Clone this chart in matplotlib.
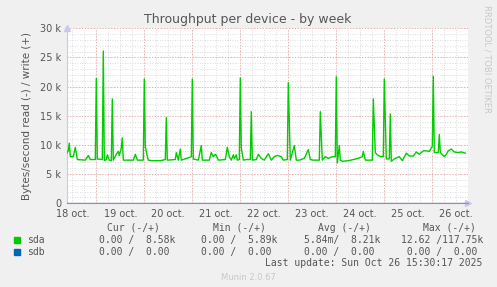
import matplotlib.pyplot as plt
from matplotlib.patches import Rectangle
import numpy as np

# Throughput per device, by week (munin). Hours since 18 oct 00:00.
hours = [9.0, 10.0, 10.5, 11.0, 12.5, 13.5, 14.5, 18.5, 20.0, 21.0, 23.5, 24.0, 24.5,
         27.0, 27.5, 28.0, 29.0, 29.5, 30.5, 31.5, 32.0, 32.5, 34.0, 35.0, 35.5, 36.5,
         37.0, 37.5, 39.5, 42.5, 43.5, 44.5, 47.5, 48.0, 48.5, 49.5, 50.0, 52.0, 56.0,
         58.5, 59.0, 59.5, 63.5, 64.0, 65.0, 66.0, 66.5, 71.0, 71.5, 72.0, 72.5, 75.0,
         76.5, 77.0, 80.5, 81.5, 82.5, 83.5, 84.0, 85.0, 88.5, 89.5, 90.5, 91.5, 92.5,
         93.0, 94.0, 94.5, 95.5, 96.0, 96.5, 97.5, 99.0, 101.0, 101.5, 102.0, 104.0,
         105.0, 106.5, 108.0, 110.0, 111.5, 113.0, 114.5, 116.5, 117.5, 119.5, 120.0,
         121.0, 123.0, 124.0, 125.5, 128.0, 130.0, 131.0, 132.5, 135.5, 136.0, 137.0,
         138.5, 140.0, 142.0, 143.5, 144.0, 144.5, 145.5, 146.0, 147.0, 150.0, 152.5,
         155.0, 157.0, 157.5, 158.5, 162.0, 162.5, 163.5, 164.5, 166.0, 167.5, 168.0,
         169.0, 170.5, 171.0, 171.5, 173.0, 175.5, 177.0, 179.0, 180.5, 182.5, 184.0,
         185.5, 187.5, 189.0, 190.5, 192.0, 192.5, 193.0, 195.0, 195.5, 196.0, 198.0,
         199.0, 200.0, 201.5, 203.0, 205.0, 206.5, 208.5]
sda_write_k = [8.5, 9.0, 10.3, 8.0, 8.0, 9.6, 7.5, 7.4, 8.2, 7.5, 7.5, 21.4, 7.6,
               7.5, 26.1, 7.3, 7.5, 8.3, 7.4, 7.3, 17.9, 7.4, 8.4, 8.9, 8.2, 9.5,
               11.2, 7.4, 7.4, 7.4, 8.4, 7.4, 7.4, 21.3, 9.8, 8.0, 7.4, 7.3, 7.3,
               7.5, 14.7, 7.4, 7.5, 8.7, 7.4, 9.3, 7.4, 7.9, 8.0, 21.3, 7.6, 7.4,
               9.9, 7.4, 7.4, 8.7, 8.0, 8.4, 8.2, 7.4, 7.5, 9.6, 8.0, 7.4, 8.3,
               7.7, 8.3, 7.4, 7.5, 21.5, 9.5, 7.4, 7.5, 7.5, 15.7, 7.4, 7.5,
               8.4, 7.7, 7.4, 8.5, 7.4, 8.0, 8.2, 8.0, 7.4, 7.5, 20.7,
               7.4, 9.9, 7.4, 7.4, 7.7, 9.2, 7.5, 7.4, 7.4, 15.7, 7.4,
               8.0, 7.7, 8.0, 8.0, 21.7, 6.9, 9.9, 7.4, 7.2, 7.3, 7.5,
               7.7, 8.0, 8.9, 7.4, 7.4, 17.9, 8.7, 8.3, 8.0, 8.0, 21.3,
               7.6, 7.6, 15.3, 7.2, 7.6, 8.0, 7.3, 8.6, 8.1, 8.1, 8.8,
               8.4, 9.0, 9.0, 8.9, 9.8, 21.8, 8.7, 8.7, 11.8, 8.7, 8.0,
               8.4, 9.0, 9.3, 8.8, 8.7, 8.8, 8.6]
day_labels = ['18 oct.', '19 oct.', '20 oct.', '21 oct.', '22 oct.',
              '23 oct.', '24 oct.', '25 oct.', '26 oct.']
y_labels = ['0', '5 k', '10 k', '15 k', '20 k', '25 k', '30 k']

devices = ['sda', 'sdb']
dev_colors = ['#00CC00', '#0066B3']
cur = ['0.00 /  8.58k', '0.00 /  0.00']
mins = ['0.00 /  5.89k', '0.00 /  0.00']
avgs = ['5.84m/  8.21k', '0.00 /  0.00']
maxs = ['12.62 /117.75k', ' 0.00 /  0.00']

W, H = 497, 287
fig = plt.figure(figsize=(W / 100, H / 100), dpi=100, facecolor='#F0F0F0')
ax = fig.add_axes([66.7 / W, 1 - 203.3 / H, (468.3 - 66.7) / W, (203.3 - 28.3) / H])
ax.set_facecolor('white')

x0, x1 = 9.2, 210.0
ax.set_xlim(x0, x1)
ax.set_ylim(0, 30000)

# grid
dot = (0, (1, 2))
for h in np.arange(12, x1, 6):
    ax.axvline(h, color='#d0d0d0', lw=0.6, ls=dot, zorder=1)
for h in np.arange(24, x1, 24):
    ax.axvline(h, color='#f0a0a0', lw=0.7, ls=dot, zorder=1)
for v in np.arange(1000, 30001, 1000):
    ax.axhline(v, color='#d0d0d0', lw=0.6, ls=dot, zorder=1)
for v in np.arange(5000, 30001, 5000):
    ax.axhline(v, color='#f0a0a0', lw=0.7, ls=dot, zorder=1)

# data
ax.plot(hours, np.array(sda_write_k) * 1000, color='#00CC00', lw=1.0, zorder=3)
ax.axhline(0, color='#9090A8', lw=1.0, zorder=4)

# axes styling
for s in ['top', 'right']:
    ax.spines[s].set_visible(False)
ax.spines['left'].set_color('#C8C8F0')
ax.spines['bottom'].set_color('#9090A8')
ax.plot([0], [1], marker='^', color='#C8C8F0', ms=4, transform=ax.transAxes, clip_on=False)
ax.plot([1], [0], marker='>', color='#C8C8F0', ms=4, transform=ax.transAxes, clip_on=False)

ax.set_xticks(np.arange(12, x1, 24))
ax.set_xticklabels(day_labels)
ax.set_yticks(np.arange(0, 30001, 5000))
ax.set_yticklabels(y_labels)
ax.tick_params(axis='both', length=0, labelsize=7, labelcolor='#555555', pad=4)

ax.set_ylabel('Bytes/second read (-) / write (+)', fontsize=7.5, color='#555555', labelpad=6)

fig.text(248 / W, 1 - 19 / H, 'Throughput per device - by week', ha='center', va='center',
         fontsize=9, color='#555555')
fig.text(487 / W, 1 - 5 / H, 'RRDTOOL / TOBI OETIKER', rotation=270, ha='center', va='top',
         fontsize=6, color='#C8C8C8')

# legend
mono = dict(family='DejaVu Sans Mono', fontsize=7, color='#555555', va='center')
fig.text(106.7 / W, 1 - 227.7 / H, 'Cur (-/+)', ha='left', **mono)
fig.text(212.7 / W, 1 - 227.7 / H, 'Min (-/+)', ha='left', **mono)
fig.text(318.3 / W, 1 - 227.7 / H, 'Avg (-/+)', ha='left', **mono)
fig.text(422.7 / W, 1 - 227.7 / H, 'Max (-/+)', ha='left', **mono)
for i, dev in enumerate(devices):
    yy = 1 - (240 + i * 11.7) / H
    fig.patches.append(Rectangle((14 / W, yy - 3 / H), 6 / W, 6 / H, color=dev_colors[i],
                                 transform=fig.transFigure))
    fig.text(26.7 / W, yy, dev, ha='left', **mono)
    fig.text(99 / W, yy, cur[i], ha='left', **mono)
    fig.text(201 / W, yy, mins[i], ha='left', **mono)
    fig.text(304 / W, yy, avgs[i], ha='left', **mono)
    fig.text(400.7 / W, yy, maxs[i], ha='left', **mono)
fig.text(482.7 / W, 1 - 263.3 / H, 'Last update: Sun Oct 26 15:30:17 2025', ha='right', **mono)
fig.text(248 / W, 1 - 277 / H, 'Munin 2.0.67', ha='center', va='center', fontsize=6,
         color='#C8C8C8')

fig.savefig('out.png', dpi=100, facecolor=fig.get_facecolor())
plt.close()
